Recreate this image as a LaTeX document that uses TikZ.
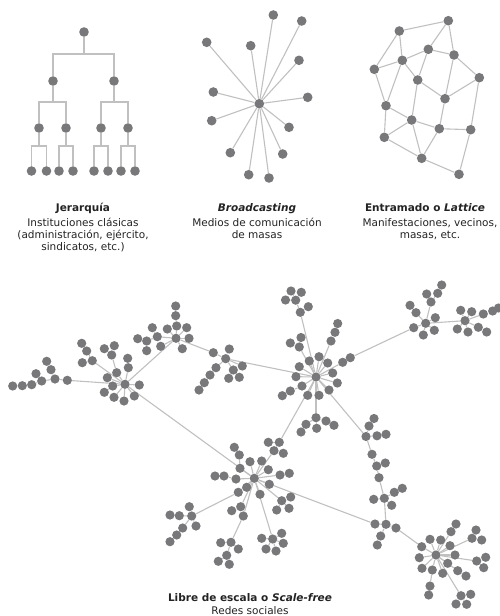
\documentclass[tikz,border=0pt]{standalone}
\usepackage{fontspec}
\setmainfont{DejaVu Sans}
\usetikzlibrary{backgrounds}
\definecolor{dotgray}{RGB}{120,120,122}
\definecolor{linkgray}{RGB}{192,192,192}
\definecolor{txt}{RGB}{35,35,35}
\begin{document}
\begin{tikzpicture}[x=1pt,y=-1pt,
  dot/.style={circle,fill=dotgray,draw=none,inner sep=0pt,minimum size=9.6pt},
  sdot/.style={circle,fill=dotgray,draw=none,inner sep=0pt,minimum size=9.2pt},
  link/.style={draw=linkgray,line width=1.1pt},
  captxt/.style={text=txt,font=\fontsize{10.5}{12}\selectfont,anchor=base,inner sep=0pt}]
\useasboundingbox (0,0) rectangle (499,616);

% ---------- Hierarchy ----------
\node[dot] (h0) at (84,32) {};
\node[dot] (h1) at (53,81) {};
\node[dot] (h2) at (114,81) {};
\node[dot] (h3) at (39,128) {};
\node[dot] (h4) at (66,128) {};
\node[dot] (h5) at (101,128) {};
\node[dot] (h6) at (128,128) {};
\foreach \n/\x in {l1/31.5,l2/46.5,l3/59,l4/73,l5/94,l6/108,l7/121,l8/135}
  \node[dot] (\n) at (\x,171) {};
\coordinate (j0) at (84,54);
\coordinate (j1) at (53,102);
\coordinate (j2) at (114,102);
\coordinate (j3) at (39,146);
\coordinate (j4) at (66,146);
\coordinate (j5) at (101,146);
\coordinate (j6) at (128,146);

% ---------- Broadcasting ----------
\node[dot] (b0) at (259.3,103.7) {};
\foreach \n/\x/\y in {b1/273.3/15,b2/301.7/21,b3/206.7/42.3,b4/250.7/45.7,b5/299/60.3,
  b6/213.3/92,b7/307.7/97.3,b8/211.7/120.7,b9/289/127.3,b10/230.3/152.7,
  b11/282.7/154,b12/248.7/174.7,b13/269/178}
  \node[dot] (\n) at (\x,\y) {};

% ---------- Lattice ----------
\foreach \n/\x/\y in {ta/448.3/20.7,tb/399.3/31,tc/428.3/49.3,td/454/55,te/402.3/60.3,
  tf/374.3/69.3,tg/417.7/80,th/479.3/77.7,ti/445/98.7,tj/386/105.7,tk/411.7/120,
  tl/439.3/128.7,tm/470.7/129.7,tn/384.3/137.3,to/421.7/158.3,tp/459/174.3}
  \node[dot] (\n) at (\x,\y) {};

% ---------- Scale-free ----------
\foreach \n/\x/\y in {A0/125/384.3,A1/67.3/380.3,A2/55/379,A3/41.7/381,A4/31.7/384.7,
  A5/22.3/385.7,A6/12.7/386,A7/36/373.7,A8/51/369.7,A9/46.7/361.3,A10/139.3/385,
  A11/134.3/396,A12/124/401,A13/114/397.3,A14/104.3/392.3,A15/112.7/386,A16/107.3/377.7,
  A17/116.7/372.7,A18/128.3/367.7,A19/127.7/358.3,A20/111.7/355,A21/104.3/348.7,
  A22/114.3/345.7,A23/92.3/360.7,A24/82.3/362.7,A25/86.7/351,A26/81.7/343.3,
  B0/176/338.3,B1/189/338.3,B2/182.3/348.7,B3/186.7/327.7,B4/176.7/326,B5/175.7/315.7,
  B6/175.7/306,B7/167.3/329,B8/157.3/336.7,B9/160.7/346.3,B10/152.3/327.7,B11/146.7/341,
  B12/137.7/338.7,B13/146.7/350.7,
  C0/225.7/358.7,C1/213.3/352.7,C2/229.3/349,C3/233.3/370,C4/242.3/366,C5/228.7/378.3,
  C6/239.3/377.3,C7/216/367.7,C8/210/375,C9/204.3/382.7,C10/199/390,
  D0/316/377,D1/300.3/312.3,D2/308.3/306.7,D3/295.7/300.2,D4/285.5/300,D5/291/291,
  D6/301.3/292.3,D7/331/341,D8/335/332.3,D9/337.7/323.5,D10/299.3/347,D11/301/337.5,
  D12/290.3/343,D13/309.3/361,D14/319/356.7,D15/327.7/363,D16/299.3/366.7,D17/296/376.7,
  D18/302/386,D19/290.3/391,D20/282.3/395.7,D21/307.7/395.3,D22/319/395.3,D23/329/390,
  D24/337.3/383,D25/332.7/373,D26/342.7/362.3,D27/350.3/357.7,D28/316/417.7,D29/306/424.3,
  D30/301/432,D31/316.7/428.3,D32/326/421,D33/334/425.3,
  E0/254.3/478.3,E1/240/468.3,E2/239.3/455,E3/234.3/447.3,E4/250/461.7,E5/261.7/461,
  E6/268.3/469.7,E7/279.3/442.3,E8/268.3/442.3,E9/274/450.7,E10/283.3/453.3,E11/215/476,
  E12/224/476,E13/236/479,E14/280/475,E15/289.3/473.3,E16/269.3/484.3,E17/246.7/487.3,
  E18/238.3/492.3,E19/260/494.3,E20/281.7/500.7,E21/290.7/497,E22/276.7/510,E23/289/508.3,
  E24/240.7/506.7,E25/231.7/510.7,E26/243.3/516,
  H0/191.7/516,H1/189.3/506.7,H2/179.3/515.7,H3/170/515,H4/196/526,H5/182.7/528,
  H6/176.7/535,H7/170/541.7,
  I0/231/542.3,I1/220.7/542.7,I2/238.3/549,I3/226.7/555.3,I4/218.3/561.3,I5/229.3/564.3,
  J0/272.7/539,J1/261.7/538.3,J2/281.7/533.3,J3/283.3/543.3,J4/266/549,J5/276/551,
  F0/366/436.5,F1/369/426,F2/374/418.5,F3/377/435.8,F4/386/434.3,F5/372/454.3,F6/376.7/466,
  F7/385.3/463,F8/379/477.7,F9/384.3/498.3,F10/373.7/499.3,F11/394.3/492.3,F12/402.3/488.3,
  F13/391.7/505.3,F14/386/524.3,F15/375/524,F16/396/528,F17/380.7/536,F18/377.3/545,
  G0/425.7/323.3,G1/413.7/327.7,G2/435.3/317.7,G3/434.3/330.3,G4/423.3/335,G5/416/312.7,
  G6/410/305.3,G7/431/302,G8/426.7/294,G9/437.7/293.3,G10/441.7/285,
  K0/465/320.7,K1/460.7/310.3,K2/471.7/311.7,K3/483.3/314,K4/492.7/311,K5/498.5/308,
  K6/457.3/329,K7/468/332,K8/478.3/327.3,K9/486.7/332,
  L0/436/555,L1/421.7/546.7,L2/419.3/557.7,L3/422/568.3,L4/432.3/570,L5/430/586,
  L6/428.7/595,L7/442.7/573.3,L8/430/539.3,L9/440.7/540,L10/450/545.7,L11/451/531.7,
  L12/456/524,L13/472/538.3,L14/476/530,L15/481.7/540,L16/455/555,L17/447.7/563.3,
  L18/457.7/570.7,L19/466/576,L20/476.7/561,L21/485.7/557.3,L22/483.7/567.7,L23/461/595.7,
  L24/470.7/594.3,L25/456/604,L26/466.7/604.3}
  \node[sdot] (\n) at (\x,\y) {};

% ---------- Captions ----------
\node[captxt] (c1a) at (83,211) {\bfseries Jerarquía};
\node[captxt] (c1b) at (83,226) {Instituciones clásicas};
\node[captxt] (c1c) at (83,238) {(administración, ejército,};
\node[captxt] (c1d) at (83,250) {sindicatos, etc.)};
\node[captxt] (c2a) at (257,211) {\bfseries\itshape Broadcasting};
\node[captxt] (c2b) at (257,226) {Medios de comunicación};
\node[captxt] (c2c) at (257,238) {de masas};
\node[captxt] (c3a) at (425,211) {\bfseries Entramado o \itshape Lattice};
\node[captxt] (c3b) at (430,226) {Manifestaciones, vecinos,};
\node[captxt] (c3c) at (430,238) {masas, etc.};
\node[captxt] (c4a) at (250,601) {\bfseries Libre de escala o \itshape Scale-free};
\node[captxt] (c4b) at (250,614) {Redes sociales};

% ---------- Connectors ----------
\begin{pgfonlayer}{background}
  \draw[link] (h0) -- (j0);
  \draw[link] (j0) -| (h1);
  \draw[link] (j0) -| (h2);
  \draw[link] (h1) -- (j1);
  \draw[link] (j1) -| (h3);
  \draw[link] (j1) -| (h4);
  \draw[link] (h2) -- (j2);
  \draw[link] (j2) -| (h5);
  \draw[link] (j2) -| (h6);
  \foreach \p/\j/\a/\b in {h3/j3/l1/l2,h4/j4/l3/l4,h5/j5/l5/l6,h6/j6/l7/l8}{
    \draw[link] (\p) -- (\j);
    \draw[link] (\j) -| (\a);
    \draw[link] (\j) -| (\b);
  }
  \foreach \n in {b1,b2,b3,b4,b5,b6,b7,b8,b9,b10,b11,b12,b13}
    \draw[link] (b0) -- (\n);
  \foreach \a/\b in {tb/ta,ta/tc,ta/td,tb/te,tb/tf,te/tf,te/tc,tc/td,tc/tg,te/tg,te/tj,
    tf/tj,td/th,td/ti,tg/ti,th/ti,th/tm,ti/tl,tg/tk,tk/to,tj/tk,tj/tn,tk/tn,tk/tl,tl/tm,
    tl/to,tn/to,to/tp,tm/tp}
    \draw[link] (\a) -- (\b);
  \foreach \a/\b in {A0/A1,A1/A2,A2/A3,A3/A4,A4/A5,A5/A6,A3/A7,A2/A8,A8/A9,
    A0/A10,A0/A11,A0/A12,A0/A13,A0/A15,A15/A14,A0/A16,A0/A17,A17/A20,A20/A21,A20/A22,
    A0/A18,A18/A19,A0/A23,A23/A24,A23/A25,A25/A26,A0/B0,A0/E0,
    B0/B1,B0/B2,B0/B3,B0/B4,B4/B5,B5/B6,B0/B7,B0/B8,B8/B10,B8/B11,B11/B12,B11/B13,B0/B9,
    B0/C1,C1/C0,C0/C2,C0/C3,C3/C5,C3/C6,C0/C4,C0/C7,C7/C8,C8/C9,C9/C10,C0/D0,
    D0/D1,D1/D2,D1/D3,D3/D4,D3/D5,D3/D6,D0/D7,D7/D8,D8/D9,D0/D10,D10/D11,D10/D12,
    D0/D13,D0/D14,D0/D15,D0/D16,D0/D17,D0/D18,D18/D19,D19/D20,D0/D21,D0/D22,D0/D23,
    D0/D24,D0/D25,D0/D26,D26/D27,D0/D28,D28/D29,D29/D30,D28/D31,D28/D32,D32/D33,
    D27/G1,G1/G0,G0/G2,G0/G3,G0/G4,G0/G5,G5/G6,G0/G7,G7/G8,G7/G9,G9/G10,G0/K0,
    K0/K1,K0/K2,K0/K3,K3/K4,K4/K5,K0/K6,K0/K7,K0/K8,K8/K9,
    D0/E7,E7/E8,E7/E9,E9/E10,E0/E9,E0/E1,E1/E2,E2/E3,E0/E4,E0/E5,E0/E6,E0/E13,E13/E12,
    E12/E11,E0/E14,E14/E15,E0/E16,E0/E17,E0/E18,E18/H0,H0/H1,H0/H2,H2/H3,H0/H4,H0/H5,
    H5/H6,H6/H7,E0/E19,E0/E20,E20/E21,E20/E22,E20/E23,E0/E24,E24/E25,E0/E26,E26/I0,
    I0/I1,I0/I2,I0/I3,I3/I4,I3/I5,E0/J0,J0/J1,J0/J2,J0/J3,J0/J4,J0/J5,
    D0/F0,F0/F1,F1/F2,F0/F3,F3/F4,F0/F5,F5/F6,F6/F7,F6/F8,F8/F9,F9/F10,F9/F11,F11/F12,
    F9/F13,F9/F14,E0/F15,F15/F14,F14/F16,F14/F17,F17/F18,F16/L1,
    L0/L1,L0/L2,L0/L3,L0/L4,L4/L5,L5/L6,L0/L7,L0/L8,L0/L9,L0/L10,L0/L11,L11/L12,L0/L13,
    L13/L14,L13/L15,L0/L16,L0/L17,L0/L18,L18/L19,L0/L20,L20/L21,L20/L22,L0/L23,L23/L24,
    L23/L25,L23/L26}
    \draw[link] (\a) -- (\b);
\end{pgfonlayer}
\end{tikzpicture}
\end{document}
